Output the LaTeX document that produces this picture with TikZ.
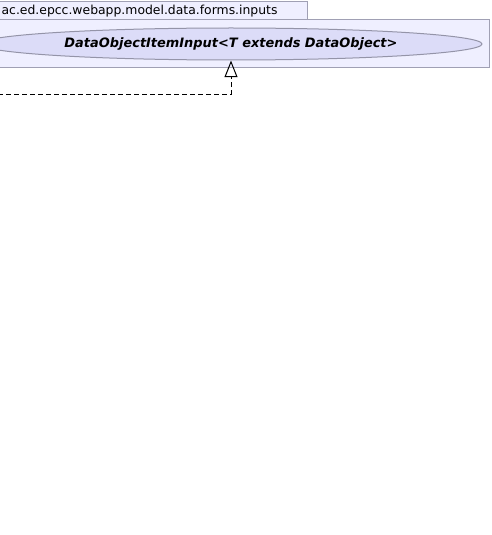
\documentclass[tikz,border=0pt]{standalone}
\usepackage{fontspec}
\setmainfont{DejaVu Sans}
\usetikzlibrary{shapes.geometric, positioning, arrows.meta}

\definecolor{pkgfill}{HTML}{EFEFFF}
\definecolor{pkgline}{HTML}{A0A0B4}
\definecolor{clsfill}{HTML}{DCDCF8}
\definecolor{clsline}{HTML}{9494A8}

\begin{document}
\begin{tikzpicture}[x=0.75pt, y=-0.75pt,
        pkgbox/.style={draw=pkgline, fill=pkgfill, line width=0.75pt},
        clsnode/.style={ellipse, draw=clsline, fill=clsfill, line width=0.75pt,
            minimum width=376.5pt, minimum height=24pt, inner sep=0pt,
            font=\fontsize{9.7}{11}\selectfont\bfseries\itshape},
        realize/.style={line width=0.75pt, dash pattern=on 3.75pt off 2.25pt,
            -{Triangle[open, width=9.75pt, length=12.5pt]}}]
        \useasboundingbox (0,0) rectangle (492,535);
        % package tab and body
        \draw[pkgbox] (-10,2) rectangle (307,20);
        \draw[pkgbox] (-10,20) rectangle (489,68);
        \node[anchor=west, inner sep=1pt, font=\fontsize{9.3}{11}\selectfont] (pkgname) at (0,11) {ac.ed.epcc.webapp.model.data.forms.inputs};
        \node[clsnode] (cls) at (231,44) {DataObjectItemInput<T extends DataObject>};
        \coordinate (sub) at (-10,94);
        \draw[realize] (sub) -| (cls.south);
    \end{tikzpicture}
\end{document}
